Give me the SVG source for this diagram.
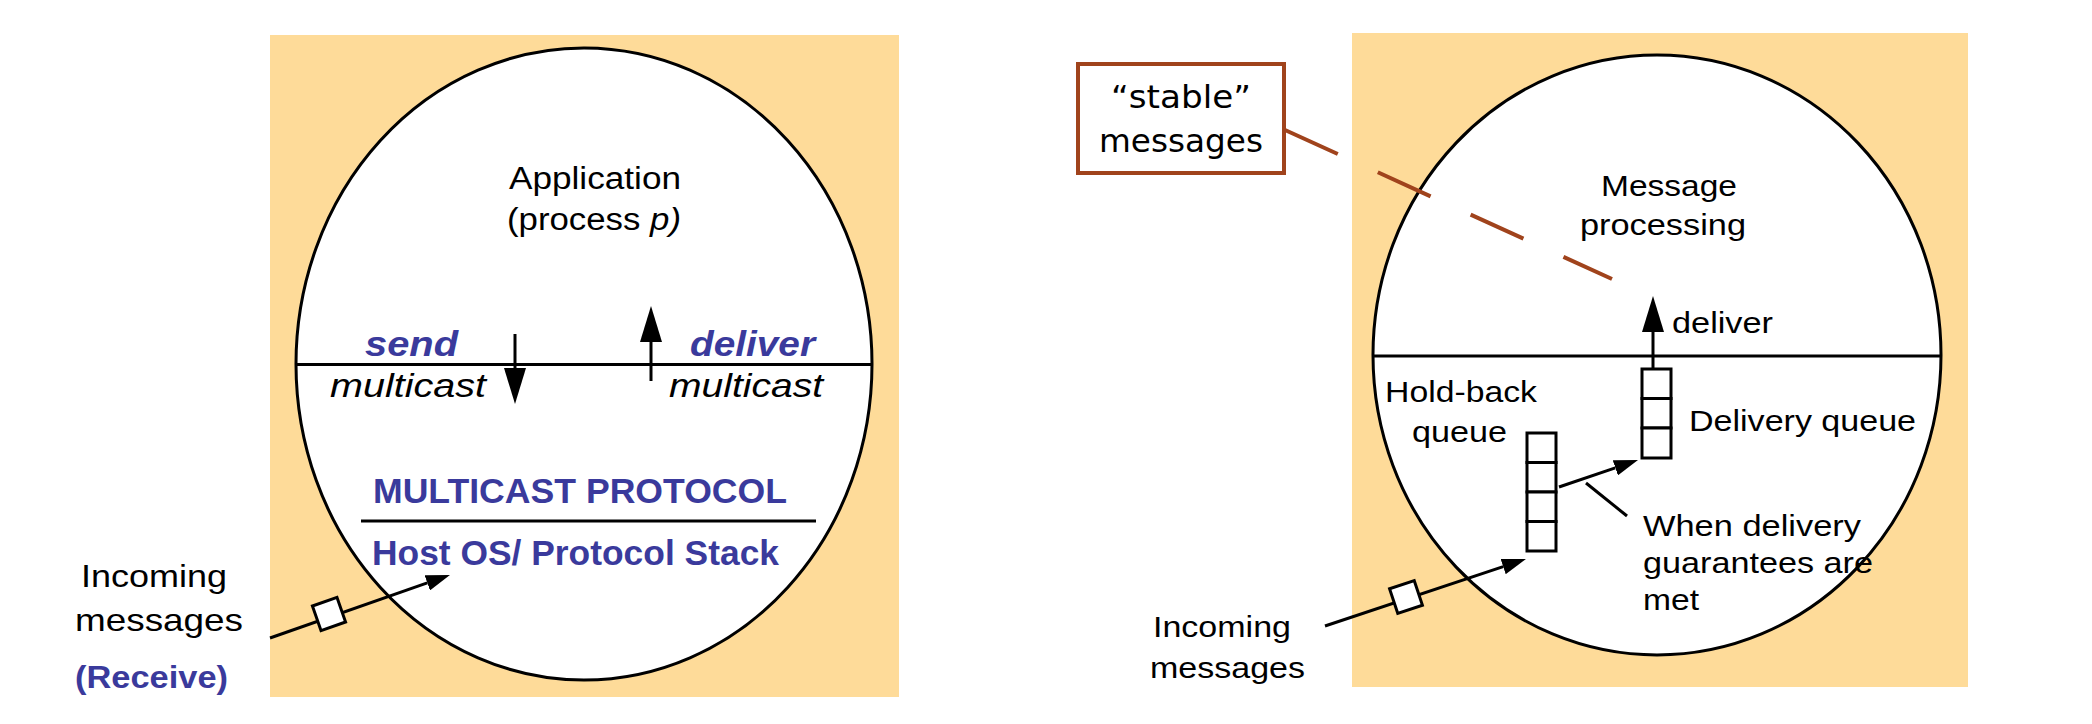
<svg xmlns="http://www.w3.org/2000/svg" width="2092" height="724" viewBox="0 0 2092 724">
<style>
.bg{fill:#FEDB99;stroke:none}
.circ{fill:#fff;stroke:#000;stroke-width:3}
.ln{stroke:#000;stroke-width:3;fill:none}
.t{font-family:"Liberation Sans",Arial,sans-serif;fill:#000}
.r{font-size:30px}
.blue{fill:#3A3A9C;font-weight:bold}
.cell{fill:#fff;stroke:#000;stroke-width:3}
.pkt{fill:#fff;stroke:#000;stroke-width:3}
.brown{stroke:#A0431C;stroke-width:4;fill:none}
</style>
<defs>
<marker id="ahv" viewBox="0 0 36 22" refX="0" refY="11" markerWidth="36" markerHeight="22" markerUnits="userSpaceOnUse" orient="auto">
<path d="M0,0 L36,11 L0,22 z" fill="#000"/>
</marker>
<marker id="ahs" viewBox="0 0 24 16" refX="0" refY="8" markerWidth="24" markerHeight="16" markerUnits="userSpaceOnUse" orient="auto">
<path d="M0,0 L24,8 L0,16 z" fill="#000"/>
</marker>
</defs>

<g id="left-panel">
<rect class="bg" x="270" y="35" width="629" height="662"/>
<ellipse class="circ" cx="584" cy="364" rx="288" ry="316"/>
<line class="ln" x1="296" y1="364.5" x2="872" y2="364.5"/>
<line class="ln" x1="361" y1="521" x2="816" y2="521"/>
</g>

<g id="application">
<text class="t" x="509" y="189" font-size="31" textLength="172" lengthAdjust="spacingAndGlyphs">Application</text>
<text class="t" x="507" y="230" font-size="31" textLength="174" lengthAdjust="spacingAndGlyphs">(process <tspan font-style="italic">p)</tspan></text>
</g>

<g id="send">
<text class="t blue" x="365" y="356" font-size="35" font-style="italic" textLength="93" lengthAdjust="spacingAndGlyphs">send</text>
<text class="t" x="330" y="397" font-size="34" font-style="italic" textLength="156" lengthAdjust="spacingAndGlyphs">multicast</text>
</g>

<g id="deliver">
<text class="t blue" x="690" y="356" font-size="35" font-style="italic" textLength="125" lengthAdjust="spacingAndGlyphs">deliver</text>
<text class="t" x="669" y="397" font-size="34" font-style="italic" textLength="154" lengthAdjust="spacingAndGlyphs">multicast</text>
</g>

<g id="protocol">
<text class="t blue" x="373" y="503" font-size="35" textLength="414" lengthAdjust="spacingAndGlyphs">MULTICAST PROTOCOL</text>
<text class="t blue" x="372" y="565" font-size="35" textLength="407" lengthAdjust="spacingAndGlyphs">Host OS/ Protocol Stack</text>
</g>

<g id="incoming-left">
<text class="t" x="81" y="587" font-size="32" textLength="146" lengthAdjust="spacingAndGlyphs">Incoming</text>
<text class="t" x="75" y="631" font-size="32" textLength="168" lengthAdjust="spacingAndGlyphs">messages</text>
<text class="t blue" x="75" y="688" font-size="31" textLength="153" lengthAdjust="spacingAndGlyphs">(Receive)</text>
</g>

<g id="right-panel">
<rect class="bg" x="1352" y="33" width="616" height="654"/>
<ellipse class="circ" cx="1657" cy="355" rx="284" ry="300"/>
<line class="ln" x1="1373" y1="356" x2="1941" y2="356"/>
</g>

<g id="message-processing">
<text class="t r" x="1601" y="196" textLength="136" lengthAdjust="spacingAndGlyphs">Message</text>
<text class="t r" x="1580" y="235" textLength="166" lengthAdjust="spacingAndGlyphs">processing</text>
</g>

<g id="delivery-queue">
<rect class="cell" x="1642" y="369" width="29" height="29.5"/>
<rect class="cell" x="1642" y="398.5" width="29" height="29.5"/>
<rect class="cell" x="1642" y="428" width="29" height="30"/>
<text class="t r" x="1689" y="431" textLength="227" lengthAdjust="spacingAndGlyphs">Delivery queue</text>
</g>

<g id="holdback-queue">
<rect class="cell" x="1527" y="433" width="29" height="29.5"/>
<rect class="cell" x="1527" y="462.5" width="29" height="29.5"/>
<rect class="cell" x="1527" y="492" width="29" height="29.5"/>
<rect class="cell" x="1527" y="521.5" width="29" height="29.5"/>
<text class="t r" x="1385" y="402" textLength="152" lengthAdjust="spacingAndGlyphs">Hold-back</text>
<text class="t r" x="1412" y="442" textLength="95" lengthAdjust="spacingAndGlyphs">queue</text>
</g>

<g id="deliver-right">
<text class="t r" x="1672" y="333" textLength="101" lengthAdjust="spacingAndGlyphs">deliver</text>
</g>

<g id="condition">
<text class="t r" x="1643" y="536" textLength="218" lengthAdjust="spacingAndGlyphs">When delivery</text>
<text class="t r" x="1643" y="573" textLength="230" lengthAdjust="spacingAndGlyphs">guarantees are</text>
<text class="t r" x="1643" y="610" textLength="56" lengthAdjust="spacingAndGlyphs">met</text>
</g>

<g id="incoming-right">
<text class="t r" x="1153" y="637" textLength="138" lengthAdjust="spacingAndGlyphs">Incoming</text>
<text class="t r" x="1150" y="678" textLength="155" lengthAdjust="spacingAndGlyphs">messages</text>
</g>

<g id="stable">
<rect class="brown" x="1078" y="64" width="206" height="109" fill="#fff"/>
<text x="1181" y="108" font-size="32" text-anchor="middle" font-family="'DejaVu Sans',sans-serif" textLength="140" lengthAdjust="spacingAndGlyphs">“stable”</text>
<text x="1181" y="152" font-size="32" text-anchor="middle" font-family="'DejaVu Sans',sans-serif" textLength="164" lengthAdjust="spacingAndGlyphs">messages</text>
</g>

<g id="connectors">
<line class="ln" x1="515" y1="334" x2="515" y2="368" marker-end="url(#ahv)"/>
<line class="ln" x1="651" y1="381" x2="651" y2="342" marker-end="url(#ahv)"/>
<line class="ln" x1="270" y1="638" x2="427.3" y2="582.9" marker-end="url(#ahs)"/>
<rect class="pkt" x="316" y="601" width="26" height="26" transform="rotate(-19.3 329 614)"/>
<line class="ln" x1="1653" y1="369" x2="1653" y2="332" marker-end="url(#ahv)"/>
<line class="ln" x1="1559" y1="487" x2="1615.3" y2="467.8" marker-end="url(#ahs)"/>
<line class="ln" x1="1586" y1="483" x2="1627" y2="516"/>
<line class="ln" x1="1325" y1="626" x2="1503.2" y2="566.6" marker-end="url(#ahs)"/>
<rect class="pkt" x="1393" y="584" width="26" height="26" transform="rotate(-18.4 1406 597)"/>
<line class="brown" x1="1285" y1="130" x2="1612" y2="279" stroke-dasharray="58 44"/>
</g>
</svg>
